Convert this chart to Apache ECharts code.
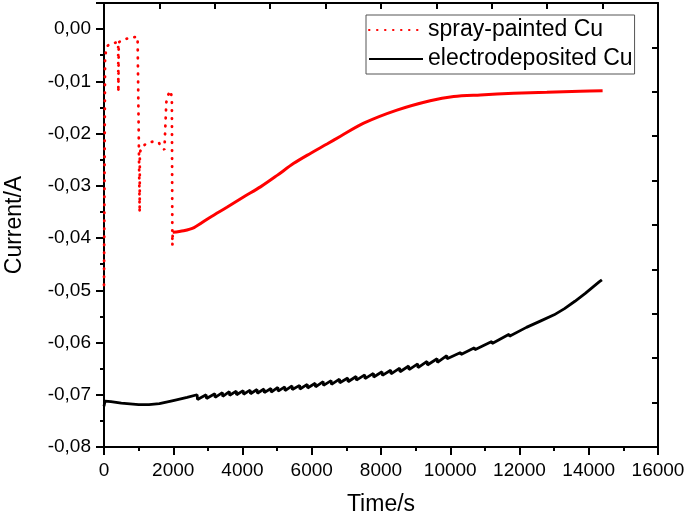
<!DOCTYPE html>
<html>
<head>
<meta charset="utf-8">
<script src="https://cdn.jsdelivr.net/npm/echarts@6/dist/echarts.min.js"></script>
<style>html,body{margin:0;padding:0;background:#fff}#c{width:685px;height:520px}</style>
</head>
<body>
<div id="c"></div>
<script>
// ---- data ----
const xTicks = [0, 2000, 4000, 6000, 8000, 10000, 12000, 14000, 16000];
const yTicks = [-0.08, -0.07, -0.06, -0.05, -0.04, -0.03, -0.02, -0.01, 0.00];
const seriesNames = ['spray-painted Cu', 'electrodeposited Cu'];

// spray-painted Cu: early transient part (dotted)
const sprayEarlyT = [0, 30, 60, 100, 190, 330, 410, 415, 425, 620, 780, 970, 1020, 1030, 1035, 1100, 1250, 1440, 1580, 1660, 1745, 1800, 1860, 1915, 1960, 1975, 1985];
const sprayEarlyI = [-0.0490, -0.0060, -0.0038, -0.0032, -0.0028, -0.0026, -0.0025, -0.0121, -0.0025, -0.0019, -0.0016, -0.0015, -0.0016, -0.0351, -0.0236, -0.0225, -0.0218, -0.0215, -0.0217, -0.0226, -0.0231, -0.0140, -0.0125, -0.0118, -0.0130, -0.0414, -0.0389];

// spray-painted Cu: main dense part
const sprayMainT = [1985, 2300, 2600, 3070, 3550, 4040, 4520, 5000, 5480, 5960, 6440, 6830, 7500, 8460, 9420, 10100, 10870, 11830, 12790, 13750, 14400];
const sprayMainI = [-0.0389, -0.0386, -0.0380, -0.0360, -0.0341, -0.0321, -0.0302, -0.0280, -0.0257, -0.0238, -0.0220, -0.0205, -0.0180, -0.0155, -0.0137, -0.0129, -0.0126, -0.0123, -0.0121, -0.0119, -0.0118];

// electrodeposited Cu
const elecT = [0, 30, 200, 500, 1000, 1300, 1600, 2000, 2400, 2690, 2700,
  2950, 2960, 3200, 3210, 3420, 3430, 3620, 3630, 3820, 3830, 4020, 4030, 4220, 4230, 4420, 4430, 4620, 4630, 4820, 4830,
  5020, 5030, 5220, 5230, 5430, 5440, 5650, 5660, 5870, 5880, 6100, 6110, 6330, 6340, 6560, 6570, 6800, 6810,
  7040, 7050, 7280, 7290, 7530, 7540, 7780, 7790, 8030, 8040, 8280, 8290, 8540, 8550, 8800, 8810, 9060, 9070,
  9330, 9340, 9620, 9630, 9900, 9910, 10300, 10310, 10700, 10710, 11200, 11210, 11700, 11710, 12200, 12210,
  12600, 12610, 13000, 13010, 13300, 13310, 13600, 13610, 13900, 14100, 14300, 14380];
const elecI = [-0.0722, -0.0712, -0.0713, -0.0716, -0.0719, -0.0719, -0.0717, -0.0711, -0.0705, -0.0700, -0.0709,
  -0.0700, -0.0707, -0.0698, -0.0705, -0.0696, -0.0703, -0.0694, -0.0701, -0.0693, -0.0700, -0.0692, -0.0699, -0.0691, -0.0698, -0.0690, -0.0697, -0.0689, -0.0696, -0.0688, -0.0695,
  -0.0686, -0.0693, -0.0685, -0.0692, -0.0683, -0.0690, -0.0682, -0.0689, -0.0680, -0.0687, -0.0678, -0.0685, -0.0675, -0.0682, -0.0673, -0.0680, -0.0670, -0.0677,
  -0.0668, -0.0675, -0.0665, -0.0672, -0.0662, -0.0669, -0.0659, -0.0666, -0.0656, -0.0663, -0.0653, -0.0660, -0.0649, -0.0656, -0.0645, -0.0652, -0.0641, -0.0648,
  -0.0636, -0.0643, -0.0631, -0.0638, -0.0625, -0.0631, -0.0619, -0.0623, -0.0610, -0.0614, -0.0598, -0.0602, -0.0584, -0.0588, -0.0571, -0.0574,
  -0.0559, -0.0562, -0.0547, -0.0549, -0.0535, -0.0537, -0.0521, -0.0523, -0.0506, -0.0495, -0.0484, -0.0480];

const zip = (a, b) => a.map((v, i) => [v, b[i]]);
const FONT = 'Arial, "Liberation Sans", sans-serif';

const chart = echarts.init(document.getElementById('c'), null, {renderer: 'canvas'});
chart.setOption({
  animation: false,
  backgroundColor: '#fff',
  grid: {left: 104, right: 27, top: 3, bottom: 73, containLabel: false, outerBoundsMode: 'none'},
  legend: {
    data: seriesNames,
    orient: 'vertical',
    left: 366, top: 15,
    padding: [2, 2, 2, 2],
    itemWidth: 54, itemHeight: 12, itemGap: 3,
    borderColor: '#555', borderWidth: 1,
    itemStyle: {opacity: 0},
    textStyle: {fontFamily: FONT, fontSize: 23, color: '#000', lineHeight: 26}
  },
  xAxis: [{
    type: 'value', min: 0, max: 16000, interval: 2000,
    name: 'Time/s', nameLocation: 'middle', nameGap: 46,
    nameTextStyle: {fontFamily: FONT, fontSize: 23, color: '#000'},
    axisLine: {show: true, onZero: false, lineStyle: {color: '#000', width: 2}},
    axisTick: {show: true, inside: false, length: 8, lineStyle: {color: '#000', width: 2}},
    minorTick: {show: true, splitNumber: 2, length: 4, lineStyle: {color: '#000', width: 2}},
    axisLabel: {fontFamily: FONT, fontSize: 19, color: '#000', margin: 14,
      formatter: v => xTicks.includes(v) ? String(v) : ''},
    splitLine: {show: false}
  }, {
    type: 'value', position: 'top', min: 0, max: 10, interval: 1,
    axisLine: {show: true, onZero: false, lineStyle: {color: '#000', width: 2}},
    axisTick: {show: true, inside: true, length: 6, lineStyle: {color: '#000', width: 2}},
    axisLabel: {show: false}, splitLine: {show: false}
  }],
  yAxis: [{
    type: 'value', min: -0.08, max: 0.005, interval: 0.01,
    name: 'Current/A', nameLocation: 'middle', nameGap: 78, nameRotate: 90,
    nameTextStyle: {fontFamily: FONT, fontSize: 23, color: '#000'},
    axisLine: {show: true, onZero: false, lineStyle: {color: '#000', width: 2}},
    axisTick: {show: true, inside: false, length: 8, lineStyle: {color: '#000', width: 2}},
    minorTick: {show: true, splitNumber: 2, length: 4, lineStyle: {color: '#000', width: 2}},
    axisLabel: {fontFamily: FONT, fontSize: 19, color: '#000', margin: 13,
      formatter: v => {
        const r = Math.abs(v) < 1e-9 ? 0 : v;
        const hit = yTicks.find(t => Math.abs(t - r) < 1e-9);
        return hit === undefined ? '' : r.toFixed(2).replace('.', ',');
      }},
    splitLine: {show: false}
  }, {
    type: 'value', position: 'right', min: 0, max: 10, interval: 1,
    axisLine: {show: true, onZero: false, lineStyle: {color: '#000', width: 2}},
    axisTick: {show: true, inside: true, length: 6, lineStyle: {color: '#000', width: 2}},
    axisLabel: {show: false}, splitLine: {show: false}
  }],
  series: [{
    name: seriesNames[0], type: 'line', xAxisIndex: 0, yAxisIndex: 0,
    data: zip(sprayEarlyT, sprayEarlyI), showSymbol: false, symbol: 'none',
    lineStyle: {color: '#ff0000', width: 2.8, type: [0.5, 7.5], cap: 'round'},
    itemStyle: {color: '#ff0000'}
  }, {
    name: seriesNames[1], type: 'line', xAxisIndex: 0, yAxisIndex: 0,
    data: zip(elecT, elecI), showSymbol: false, symbol: 'none',
    lineStyle: {color: '#000', width: 2.8}, itemStyle: {color: '#000'}
  }, {
    name: 'spray-main', type: 'line', xAxisIndex: 0, yAxisIndex: 0,
    data: zip(sprayMainT, sprayMainI), showSymbol: false, symbol: 'none', smooth: 0.3,
    lineStyle: {color: '#ff0000', width: 3}, itemStyle: {color: '#ff0000'}
  }]
});
</script>
</body>
</html>
